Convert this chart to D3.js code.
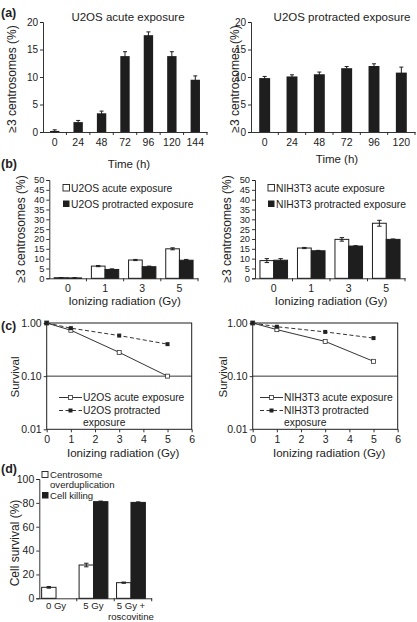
<!DOCTYPE html>
<html><head><meta charset="utf-8">
<script src="https://cdn.jsdelivr.net/npm/d3@7"></script>
<style>
html,body{margin:0;padding:0;background:#fff;}
svg text{font-family:"Liberation Sans",Arial,Helvetica,sans-serif;fill:#222;}
</style></head>
<body><svg id="c" width="417" height="622"></svg>
<script>
// ---------- data ----------
const aHours = ["0","24","48","72","96","120","144"];
const aAcute = [0.2,1.8,3.4,13.8,17.6,13.8,9.5];
const aAcuteErr = [0.2,0.3,0.4,0.8,0.6,0.8,0.7];
const aProtHours = ["0","24","48","72","96","120"];
const aProt = [9.8,10.1,10.5,11.6,12.0,10.8];
const aProtErr = [0.3,0.3,0.4,0.3,0.4,1.0];
const aYTicks = [0,5,10,15,20];

const bDoses = ["0","1","3","5"];
const bU2OSAcute = [0.3,6.2,9.3,15.0];
const bU2OSAcuteErr = [0.1,0.3,0.3,0.5];
const bU2OSProt = [0.2,4.5,5.9,9.2];
const bU2OSProtErr = [0.1,0.3,0.3,0.4];
const bNIHAcute = [9.0,15.4,19.8,28.0];
const bNIHAcuteErr = [1.0,0.3,0.9,1.5];
const bNIHProt = [9.2,14.0,16.4,19.8];
const bNIHProtErr = [0.8,0.2,0.2,0.2];
const bYTicks = [0,5,10,15,20,25,30,35,40,45,50];

const cDose = [0,1,3,5];
const cU2OSAcute = [1.0,0.73,0.28,0.10];
const cU2OSProt = [1.0,0.80,0.58,0.40];
const cNIHAcute = [1.0,0.75,0.45,0.19];
const cNIHProt = [1.0,0.85,0.68,0.52];
const cXTicks = [0,1,2,3,4,5,6];
const cYTicks = [0.01,0.1,1];

const dGroups = ["0 Gy","5 Gy","5 Gy + roscovitine"];
const dGroupLabels = [["0 Gy"],["5 Gy"],["5 Gy +","roscovitine"]];
const dOverdup = [9.2,27.9,13.1];
const dOverdupErr = [0.7,1.5,0.5];
const dKilling = [0,81.0,80.4];
const dKillingErr = [0,0.5,0.4];
const dYTicks = [0,20,40,60,80,100];

// ---------- helpers ----------
const svg = d3.select("#c");
const INK = "#1e1e1e";
const TICKF = 10.5, TITLEF = 11.5, LEGF = 10;

function styleAxis(g,fs){
  g.selectAll("path,line").attr("stroke",INK).attr("stroke-width",0.9);
  g.selectAll("text").attr("font-size",fs||TICKF).attr("fill","#222");
  g.attr("font-family",null);
}
function ylabel(txt,x,y,size){
  svg.append("text").attr("transform",`translate(${x},${y}) rotate(-90)`)
    .attr("text-anchor","middle").attr("dominant-baseline","central")
    .attr("font-size",size||TITLEF).text(txt);
}
function label(txt,x,y,size,anchor,weight){
  return svg.append("text").attr("x",x).attr("y",y).attr("text-anchor",anchor||"middle")
    .attr("font-size",size||TITLEF).attr("font-weight",weight||"normal").text(txt);
}
function errBar(g,cx,yv,err,y,cap){
  if(err<=0) return;
  g.append("line").attr("x1",cx).attr("x2",cx).attr("y1",y(yv+err)).attr("y2",y(Math.max(0,yv-err)))
    .attr("stroke",INK).attr("stroke-width",1);
  [yv+err, Math.max(0,yv-err)].forEach(v=>{
    g.append("line").attr("x1",cx-cap).attr("x2",cx+cap).attr("y1",y(v)).attr("y2",y(v))
      .attr("stroke",INK).attr("stroke-width",1);
  });
}
function bandTicks(g,x,yAxis){
  const step = x.step();
  x.domain().forEach((d,i)=>{
    const xx = x(d)+step;
    g.append("line").attr("x1",xx).attr("x2",xx).attr("y1",yAxis).attr("y2",yAxis+3)
      .attr("stroke",INK).attr("stroke-width",0.9);
  });
}

// ---------- panel (a) ----------
function panelA(cats, vals, errs, x0, x1, title, titleX, xTitleY, yLabX){
  const y = d3.scaleLinear().domain([0,20]).range([132,22]);
  const x = d3.scaleBand().domain(cats).range([x0,x1]).padding(0);
  const g = svg.append("g");
  const bw = x.step()*0.4;
  cats.forEach((c,i)=>{
    const cx = x(c)+x.step()/2;
    g.append("rect").attr("x",cx-bw/2).attr("width",bw).attr("y",y(vals[i]))
      .attr("height",y(0)-y(vals[i])).attr("fill",INK);
    errBar(g,cx,vals[i],errs[i],y,2);
  });
  const ya = svg.append("g").attr("transform",`translate(${x0},0)`)
    .call(d3.axisLeft(y).tickValues(aYTicks).tickSize(3).tickPadding(2));
  styleAxis(ya,10);
  const xa = svg.append("g").attr("transform",`translate(0,${y(0)})`)
    .call(d3.axisBottom(x).tickSize(0).tickPadding(7).tickSizeOuter(0));
  styleAxis(xa);
  bandTicks(svg,x,y(0));
  label(title,titleX,21,TITLEF);
  label("Time (h)",(x0+x1)/2+4,xTitleY,TITLEF);
  ylabel("\u22653 centrosomes (%)",yLabX,79,TITLEF+0.5);
}
panelA(aHours,aAcute,aAcuteErr,43,207,"U2OS acute exposure",128,168,12);
panelA(aProtHours,aProt,aProtErr,251,415,"U2OS protracted exposure",342,163,235);
label("(a)",1,17,12.5,"start","bold");

// ---------- panel (b) ----------
function panelB(acute,acuteErr,prot,protErr,x0,x1,legA,legP,legX,yLabX){
  const y = d3.scaleLinear().domain([0,50]).range([278.3,180]);
  const x = d3.scaleBand().domain(bDoses).range([x0,x1]).padding(0);
  const sub = d3.scaleBand().domain(["acute","prot"]).range([0,x.step()]).paddingInner(0).paddingOuter(0.36);
  const g = svg.append("g");
  bDoses.forEach((d,i)=>{
    const xa = x(d)+sub("acute"), xp = x(d)+sub("prot"), bw = sub.bandwidth();
    g.append("rect").attr("x",xa).attr("width",bw).attr("y",y(acute[i]))
      .attr("height",y(0)-y(acute[i])).attr("fill","#fff").attr("stroke",INK).attr("stroke-width",1);
    g.append("rect").attr("x",xp).attr("width",bw).attr("y",y(prot[i]))
      .attr("height",y(0)-y(prot[i])).attr("fill",INK).attr("stroke",INK).attr("stroke-width",1);
    errBar(g,xa+bw/2,acute[i],acuteErr[i],y,2.2);
    errBar(g,xp+bw/2,prot[i],protErr[i],y,2.2);
  });
  const ya = svg.append("g").attr("transform",`translate(${x0},0)`)
    .call(d3.axisLeft(y).tickValues(bYTicks).tickSize(3).tickPadding(2));
  styleAxis(ya,9.3);
  const xaG = svg.append("g").attr("transform",`translate(0,${y(0)})`)
    .call(d3.axisBottom(x).tickSize(0).tickPadding(6).tickSizeOuter(0));
  styleAxis(xaG);
  bandTicks(svg,x,y(0));
  svg.append("rect").attr("x",legX).attr("y",184.5).attr("width",6.5).attr("height",6.5)
    .attr("fill","#fff").attr("stroke",INK).attr("stroke-width",0.9);
  label(legA,legX+8,191.5,LEGF+0.3,"start");
  svg.append("rect").attr("x",legX).attr("y",200.5).attr("width",6.5).attr("height",6.5).attr("fill",INK);
  label(legP,legX+8,207.5,LEGF+0.3,"start");
  label("Ionizing radiation (Gy)",(x0+x1)/2+1,305,TITLEF);
  ylabel("\u22653 centrosomes (%)",yLabX,229,TITLEF+0.5);
}
panelB(bU2OSAcute,bU2OSAcuteErr,bU2OSProt,bU2OSProtErr,49.3,198,"U2OS acute exposure","U2OS protracted exposure",63,21);
panelB(bNIHAcute,bNIHAcuteErr,bNIHProt,bNIHProtErr,255,405,"NIH3T3 acute exposure","NIH3T3 protracted exposure",268,227);
label("(b)",1,168,12.5,"start","bold");

// ---------- panel (c) ----------
function panelC(acute,prot,x0,x1,names,legX,yLabX){
  const x = d3.scaleLinear().domain([0,6]).range([x0,x1]);
  const y = d3.scaleLog().domain([0.01,1]).range([429.3,323]);
  svg.append("rect").attr("x",x0).attr("y",y(1)).attr("width",x1-x0).attr("height",y(0.01)-y(1))
    .attr("fill","none").attr("stroke",INK).attr("stroke-width",1);
  svg.append("line").attr("x1",x0).attr("x2",x1).attr("y1",y(0.1)).attr("y2",y(0.1))
    .attr("stroke",INK).attr("stroke-width",0.9);
  const line = d3.line().x((d,i)=>x(cDose[i])).y(d=>y(d));
  svg.append("path").datum(acute).attr("d",line).attr("fill","none").attr("stroke","#333").attr("stroke-width",1);
  svg.append("path").datum(prot).attr("d",line).attr("fill","none").attr("stroke","#333").attr("stroke-width",1)
    .attr("stroke-dasharray","4,2.5");
  acute.forEach((v,i)=>{
    svg.append("rect").attr("x",x(cDose[i])-2).attr("y",y(v)-2).attr("width",4).attr("height",4)
      .attr("fill","#fff").attr("stroke","#333").attr("stroke-width",0.8);
  });
  prot.forEach((v,i)=>{
    svg.append("rect").attr("x",x(cDose[i])-2).attr("y",y(v)-2).attr("width",4).attr("height",4)
      .attr("fill","#222");
  });
  const ya = svg.append("g").attr("transform",`translate(${x0},0)`)
    .call(d3.axisLeft(y).tickValues(cYTicks).tickFormat(d3.format(".2f")).tickSize(3).tickPadding(2));
  styleAxis(ya); ya.select(".domain").remove();
  const xa = svg.append("g").attr("transform",`translate(0,${y(0.01)})`)
    .call(d3.axisBottom(x).tickValues(cXTicks).tickFormat(d3.format("d")).tickSize(3).tickPadding(3));
  styleAxis(xa); xa.select(".domain").remove();
  // legend
  const ly = [397.5,410.5];
  svg.append("line").attr("x1",legX).attr("x2",legX+23).attr("y1",ly[0]).attr("y2",ly[0]).attr("stroke","#333");
  svg.append("rect").attr("x",legX+11.5-2).attr("y",ly[0]-2).attr("width",4).attr("height",4)
    .attr("fill","#fff").attr("stroke","#333").attr("stroke-width",0.8);
  svg.append("line").attr("x1",legX).attr("x2",legX+23).attr("y1",ly[1]).attr("y2",ly[1]).attr("stroke","#333")
    .attr("stroke-dasharray","4,2.5");
  svg.append("rect").attr("x",legX+11.5-2).attr("y",ly[1]-2).attr("width",4).attr("height",4).attr("fill","#222");
  label(names[0],legX+24,ly[0]+3.6,LEGF+0.3,"start");
  label(names[1],legX+24,ly[1]+3.6,LEGF+0.3,"start");
  label("exposure",legX+24,ly[1]+15.5,LEGF+0.3,"start");
  label("Ionizing radiation (Gy)",(x0+x1)/2+4,457,TITLEF);
  ylabel("Survival",yLabX,377,TITLEF);
}
panelC(cU2OSAcute,cU2OSProt,46.7,191.7,["U2OS acute exposure","U2OS protracted"],59,15);
panelC(cNIHAcute,cNIHProt,252.7,397.7,["NIH3T3 acute exposure","NIH3T3 protracted"],260,223);
label("(c)",1,330,12.5,"start","bold");

// ---------- panel (d) ----------
(function(){
  const x0=39.3, x1=151.7;
  const y = d3.scaleLinear().domain([0,100]).range([598.3,479]);
  const x = d3.scaleBand().domain(dGroups).range([x0,x1]).padding(0);
  const sub = d3.scaleBand().domain(["o","k"]).range([0,x.step()]).paddingInner(0).paddingOuter(0.3);
  dGroups.forEach((d,i)=>{
    const xo = x(d)+sub("o")-2, xk = x(d)+sub("k")-2, bw = sub.bandwidth();
    svg.append("rect").attr("x",xo).attr("width",bw).attr("y",y(dOverdup[i])).attr("height",y(0)-y(dOverdup[i]))
      .attr("fill","#fff").attr("stroke",INK).attr("stroke-width",1);
    if(dKilling[i]>0) svg.append("rect").attr("x",xk).attr("width",bw).attr("y",y(dKilling[i])).attr("height",y(0)-y(dKilling[i]))
      .attr("fill",INK).attr("stroke",INK).attr("stroke-width",1);
    errBar(svg,xo+bw/2,dOverdup[i],dOverdupErr[i],y,2.2);
    errBar(svg,xk+bw/2,dKilling[i],dKillingErr[i],y,2.2);
  });
  const ya = svg.append("g").attr("transform",`translate(${x0},0)`)
    .call(d3.axisLeft(y).tickValues(dYTicks).tickSize(3).tickPadding(2));
  styleAxis(ya);
  const xa = svg.append("g").attr("transform",`translate(0,${y(0)})`)
    .call(d3.axisBottom(x).tickSize(0).tickSizeOuter(0).tickFormat(""));
  styleAxis(xa);
  bandTicks(svg,x,y(0));
  dGroups.forEach((d,i)=>{
    dGroupLabels[i].forEach((t,j)=>{
      label(t,x(d)+x.step()/2-2,609+j*10.5,9.6);
    });
  });
  svg.append("rect").attr("x",42).attr("y",471.5).attr("width",6).attr("height",6)
    .attr("fill","#fff").attr("stroke",INK).attr("stroke-width",0.9);
  label("Centrosome",50,477.5,9.6,"start");
  label("overduplication",50,487.5,9.6,"start");
  svg.append("rect").attr("x",42).attr("y",492).attr("width",6.5).attr("height",6.5).attr("fill",INK);
  label("Cell killing",50,499,9.6,"start");
  ylabel("Cell survival (%)",15,543,TITLEF+0.5);
})();
label("(d)",1,473,12.5,"start","bold");
</script></body></html>
